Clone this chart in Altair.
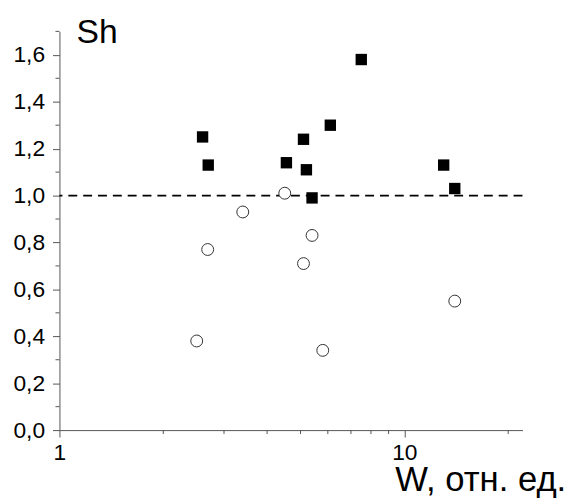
import altair as alt
import pandas as pd

# filled squares
sq_w = [2.6, 2.7, 4.55, 5.1, 5.2, 5.4, 6.1, 7.5, 13.0, 14.0]
sq_sh = [1.25, 1.13, 1.14, 1.24, 1.11, 0.99, 1.30, 1.58, 1.13, 1.03]
# open circles
ci_w = [2.5, 2.69, 3.4, 4.5, 5.1, 5.4, 5.8, 14.0]
ci_sh = [0.38, 0.77, 0.93, 1.01, 0.71, 0.83, 0.34, 0.55]

x_major = [1, 10]
x_minor = [2, 3, 4, 5, 6, 7, 8, 9, 20]
y_major = [0.0, 0.2, 0.4, 0.6, 0.8, 1.0, 1.2, 1.4, 1.6]
y_minor = [0.1, 0.3, 0.5, 0.7, 0.9, 1.1, 1.3, 1.5, 1.7]
ref_level = [1.0]

x_title = "W, отн. ед."
y_title = "Sh"

FONT = "Liberation Sans"
AX = "#555555"
W, H = 468, 403

sq = pd.DataFrame({"W": sq_w, "Sh": sq_sh})
ci = pd.DataFrame({"W": ci_w, "Sh": ci_sh})
xm = pd.DataFrame({"v": x_minor})
ym = pd.DataFrame({"v": y_minor})
rf = pd.DataFrame({"v": ref_level})

xscale = alt.Scale(type="log", domain=[1, 22], nice=False)
yscale = alt.Scale(domain=[0, 1.7], nice=False, zero=True)

xaxis = alt.Axis(
    values=x_major, labelExpr="format(datum.value, 'd')", grid=False,
    tickSize=7, tickColor=AX, domainColor=AX, labelColor="black",
    labelFont=FONT, labelFontSize=23, labelPadding=5, labelFlush=False,
    labelOverlap=False, labelBound=False,
    title=x_title, titleFont=FONT, titleFontSize=35, titleFontWeight="normal",
    titleColor="black", titleAlign="right", titleBaseline="alphabetic",
    titleAnchor="end", titleX=511.7, titleY=61, titleAngle=0,
)
yaxis = alt.Axis(
    values=y_major, labelExpr="replace(format(datum.value, '.1f'), '.', ',')",
    grid=False, tickSize=7, tickColor=AX, domainColor=AX, labelColor="black",
    labelFont=FONT, labelFontSize=23, labelPadding=8, labelFlush=False,
    labelOverlap=False, labelBound=False,
    title=y_title, titleFont=FONT, titleFontSize=34, titleFontWeight="normal",
    titleColor="black", titleAlign="left", titleBaseline="alphabetic",
    titleAngle=0, titleX=16.7, titleY=11.4,
)

ref = alt.Chart(rf).mark_rule(color="black", strokeWidth=1.7, strokeDash=[9, 6]).encode(
    y=alt.Y("v:Q", scale=yscale, axis=yaxis)
)
xminor = alt.Chart(xm).mark_rule(color=AX, strokeWidth=1).encode(
    x=alt.X("v:Q", scale=xscale, axis=xaxis),
    y=alt.value(H), y2=alt.value(H + 4),
)
yminor = alt.Chart(ym).mark_rule(color=AX, strokeWidth=1).encode(
    y=alt.Y("v:Q", scale=yscale, axis=yaxis),
    x=alt.value(-4), x2=alt.value(0),
)
squares = alt.Chart(sq).mark_square(size=132, color="black", opacity=1).encode(
    x=alt.X("W:Q", scale=xscale, axis=xaxis),
    y=alt.Y("Sh:Q", scale=yscale, axis=yaxis),
)
circles = alt.Chart(ci).mark_point(
    shape="circle", size=144, filled=True, fill="white", stroke="#333333",
    strokeWidth=1, opacity=1, fillOpacity=1, strokeOpacity=1,
).encode(
    x=alt.X("W:Q", scale=xscale, axis=xaxis),
    y=alt.Y("Sh:Q", scale=yscale, axis=yaxis),
)

chart = alt.layer(xminor, yminor, ref, squares, circles).properties(
    width=W, height=H,
    autosize=alt.AutoSizeParams(type="none"),
    padding={"left": 52, "top": 21, "right": 44, "bottom": 67},
    background="white",
).configure_view(stroke=None)

chart.save("out.html", embed_options={"renderer": "svg", "actions": False})
